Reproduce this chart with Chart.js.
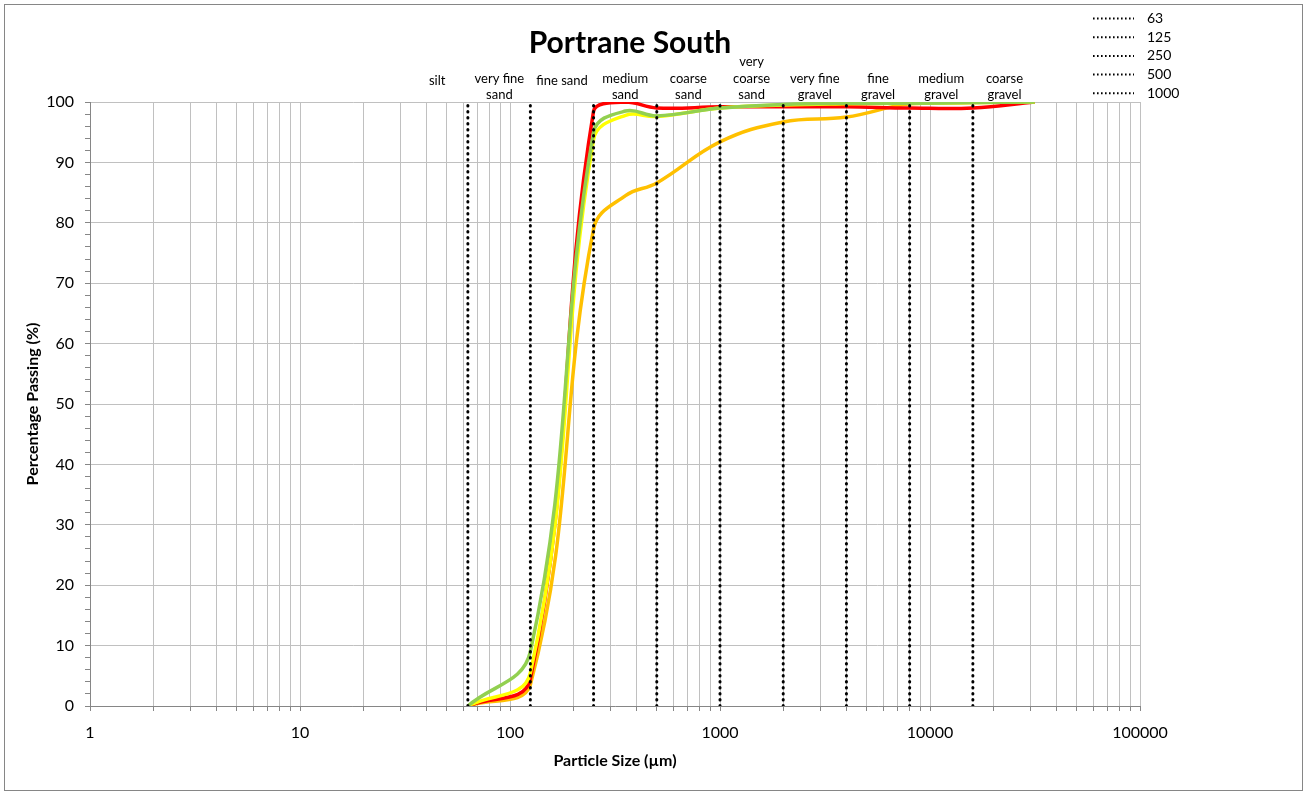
<!DOCTYPE html>
<html>
<head>
<meta charset="utf-8">
<script src="https://cdn.jsdelivr.net/npm/chart.js@4"></script>
<style>
  html, body { margin: 0; padding: 0; background: #fff; }
  #wrap { width: 1308px; height: 794px; position: relative; }
</style>
</head>
<body>
<div id="wrap"><canvas id="chart" width="1308" height="794"></canvas></div>
<script>
// sieve sizes (µm) and % passing for each sample
const sizes  = [63, 125, 250, 355, 500, 1000, 2000, 4000, 8000, 16000, 31500];
const red    = [0, 4.5, 98.5, 100, 99, 99.2, 99.2, 99.2, 99, 99, 100];
const yellow = [0, 5.5, 93.8, 97.8, 97.6, 99, 99.5, 99.7, 99.8, 99.9, 100];
const green  = [0, 9, 95, 98.5, 97.7, 99, 99.6, 99.8, 99.8, 99.9, 100];
const orange = [0, 3.5, 79, 84.5, 86.6, 93.4, 96.7, 97.5, 99.7, 99.9, 100];

// class boundaries (dotted lines), only first five make it into the legend
const boundaries = [63, 125, 250, 500, 1000, 2000, 4000, 8000, 16000];
const legendCount = 5;

// grain size classes and where their names sit (µm)
const zoneNames = [['silt'], ['very fine', 'sand'], ['fine sand'], ['medium', 'sand'], ['coarse', 'sand'],
  ['very', 'coarse', 'sand'], ['very fine', 'gravel'], ['fine', 'gravel'], ['medium', 'gravel'], ['coarse', 'gravel']];
const zoneCentres = [45, 89, 177, 354, 707, 1414, 2828, 5657, 11314, 22627];

const xDecades = [1, 10, 100, 1000, 10000, 100000];
const yLabels = [0, 10, 20, 30, 40, 50, 60, 70, 80, 90, 100];

const FONT = 'Lato, "Open Sans", sans-serif';

function curve(label, vals, color) {
  return {
    label: label,
    data: sizes.map((s, i) => ({x: s, y: vals[i]})),
    borderColor: color,
    borderWidth: 3.5,
    pointRadius: 0,
    tension: 0.4,
    fill: false
  };
}

const dotted = boundaries.map(b => ({
  label: String(b),
  data: [{x: b, y: 0}, {x: b, y: 100}],
  borderColor: '#000',
  borderWidth: 3,
  borderDash: [0.5, 5.5],
  borderCapStyle: 'round',
  pointRadius: 0,
  tension: 0,
  isBoundary: true
}));

const extras = {
  id: 'extras',
  afterDraw(chart) {
    const ctx = chart.ctx;
    const xs = chart.scales.x;
    ctx.save();
    // outer frame
    ctx.strokeStyle = '#868686';
    ctx.lineWidth = 1;
    ctx.strokeRect(4.5, 4.5, 1298, 786);

    // title
    ctx.fillStyle = '#000';
    ctx.font = 'bold 30px ' + FONT;
    ctx.textAlign = 'center';
    ctx.textBaseline = 'middle';
    ctx.fillText('Portrane South', 630, 43);

    // class names above the plot
    ctx.font = '13px ' + FONT;
    zoneNames.forEach((lines, i) => {
      const x = xs.getPixelForValue(zoneCentres[i]);
      const last = lines.length === 1 ? 81 : 95;
      lines.forEach((t, j) => {
        ctx.fillText(t, x, last - (lines.length - 1 - j) * 16.5);
      });
    });

    // legend
    ctx.font = '14px ' + FONT;
    ctx.textAlign = 'left';
    chart.data.datasets.filter(d => d.isBoundary).slice(0, legendCount).forEach((d, i) => {
      const y = 18.5 + i * 18.7;
      ctx.beginPath();
      ctx.setLineDash([1.6, 2.4]);
      ctx.lineWidth = 2;
      ctx.strokeStyle = '#000';
      ctx.moveTo(1093, y);
      ctx.lineTo(1134, y);
      ctx.stroke();
      ctx.fillText(d.label, 1147, y);
    });
    ctx.restore();
  }
};

new Chart(document.getElementById('chart'), {
  type: 'line',
  data: {
    datasets: [
      ...dotted,
      curve('Sample A', green, '#92d050'),
      curve('Sample B', yellow, '#ffff00'),
      curve('Sample C', red, '#ff0000'),
      curve('Sample D', orange, '#ffc000')
    ]
  },
  options: {
    responsive: false,
    animation: false,
    layout: { padding: { left: 0, top: 102, right: 168, bottom: 0 } },
    plugins: { legend: { display: false }, tooltip: { enabled: false } },
    scales: {
      x: {
        type: 'logarithmic',
        min: 1,
        max: 100000,
        afterFit(s) { s.height = 88; },
        afterBuildTicks(s) {
          const t = [];
          xDecades.forEach(d => {
            if (d === 100000) { t.push({value: d}); return; }
            for (let k = 1; k <= 9; k++) t.push({value: d * k});
          });
          s.ticks = t;
        },
        grid: { color: '#c0c0c0', tickColor: '#868686', tickLength: 5 },
        border: { color: '#868686' },
        ticks: {
          autoSkip: false,
          maxRotation: 0,
          padding: 12,
          color: '#000',
          font: { family: FONT, size: 16 },
          callback: v => xDecades.includes(v) ? String(v) : ''
        },
        title: {
          display: true,
          text: 'Particle Size (µm)',
          color: '#000',
          font: { family: FONT, size: 16, weight: 'bold' },
          padding: { top: 0, bottom: 23.4 }
        }
      },
      y: {
        min: 0,
        max: 100,
        afterFit(s) { s.width = 90; },
        grid: {
          color: c => (c.tick && c.tick.value % 10 === 0) ? '#c0c0c0' : 'rgba(0,0,0,0)',
          tickColor: '#868686',
          tickLength: 5
        },
        border: { color: '#868686' },
        ticks: {
          stepSize: 2,
          autoSkip: false,
          padding: 11,
          color: '#000',
          font: { family: FONT, size: 16 },
          callback: v => yLabels.includes(v) ? String(v) : ''
        },
        title: {
          display: true,
          text: 'Percentage Passing (%)',
          color: '#000',
          font: { family: FONT, size: 16, weight: 'bold' },
          padding: { top: 23.4, bottom: 0 }
        }
      }
    }
  },
  plugins: [extras]
});
</script>
</body>
</html>
